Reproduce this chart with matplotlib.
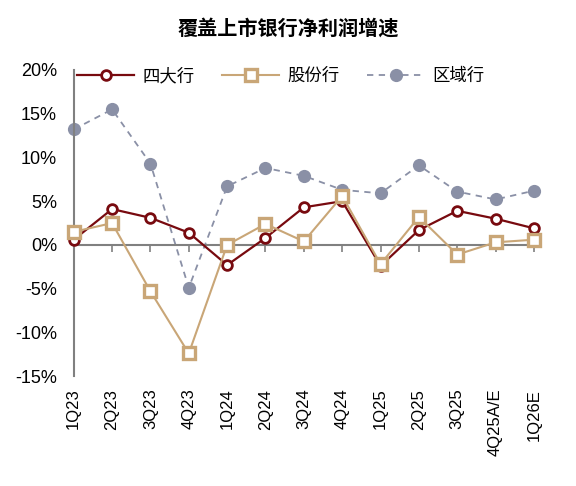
import matplotlib
matplotlib.use("Agg")
import matplotlib.pyplot as plt

plt.rcParams['font.family'] = ['Liberation Sans', 'Noto Sans CJK SC', 'DejaVu Sans']

categories = ["1Q23", "2Q23", "3Q23", "4Q23", "1Q24", "2Q24", "3Q24", "4Q24",
              "1Q25", "2Q25", "3Q25", "4Q25A/E", "1Q26E"]
big4 = [0.6, 4.1, 3.1, 1.4, -2.3, 0.8, 4.3, 5.0, -2.4, 1.7, 3.9, 3.0, 1.9]
joint = [1.5, 2.5, -5.3, -12.4, 0.0, 2.4, 0.4, 5.6, -2.2, 3.2, -1.1, 0.3, 0.6]
regional = [13.2, 15.5, 9.3, -4.9, 6.7, 8.8, 7.9, 6.3, 5.9, 9.1, 6.1, 5.2, 6.2]
yticks = [-15, -10, -5, 0, 5, 10, 15, 20]
series_names = ["四大行", "股份行", "区域行"]

c_red = "#780A0F"
c_tan = "#C9A677"
c_gray = "#8A90A6"
c_axis = "#808080"

fig = plt.figure(figsize=(5.76, 4.86), dpi=100)
ax = fig.add_axes([0.128, 0.226, 0.799, 0.630])
x = list(range(len(categories)))

ax.plot(x, regional, color=c_gray, linestyle=(0, (3.5, 3)), linewidth=1.3,
        marker='o', markersize=9.5, markerfacecolor=c_gray, markeredgecolor=c_gray,
        markeredgewidth=0, label=series_names[2], zorder=2, clip_on=False)
ax.plot(x, big4, color=c_red, linewidth=1.6, marker='o', markersize=7,
        markerfacecolor='white', markeredgecolor=c_red, markeredgewidth=2.0,
        label=series_names[0], zorder=3, clip_on=False)
ax.plot(x, joint, color=c_tan, linewidth=1.5, marker='s', markersize=8.2,
        markerfacecolor='white', markeredgecolor=c_tan, markeredgewidth=2.4,
        label=series_names[1], zorder=4, clip_on=False)

ax.set_xlim(0, len(categories) - 1)
ax.set_ylim(-15, 20)
ax.set_yticks(yticks)
ax.set_yticklabels([f"{v}%" for v in yticks], fontsize=13)
ax.tick_params(axis='y', length=0, pad=12)

for s in ['top', 'right']:
    ax.spines[s].set_visible(False)
ax.spines['left'].set_color(c_axis)
ax.spines['left'].set_linewidth(1.5)
ax.spines['bottom'].set_position(('data', 0))
ax.spines['bottom'].set_color(c_axis)
ax.spines['bottom'].set_linewidth(1.5)
ax.set_xticks(x)
ax.tick_params(axis='x', labelbottom=False, length=5, width=1.2, color=c_axis, direction='out')

sec = ax.secondary_xaxis(0)
sec.set_xticks(x)
sec.set_xticklabels(categories, rotation=90, fontsize=12)
sec.tick_params(length=0, pad=9)
sec.spines['bottom'].set_visible(False)

handles, labels = ax.get_legend_handles_labels()
order = [1, 2, 0]
leg = ax.legend([handles[i] for i in order], [labels[i] for i in order],
                loc='upper left', bbox_to_anchor=(-0.027, 1.06), ncol=3, frameon=False,
                fontsize=12.5, handlelength=3.3, columnspacing=1.6, handletextpad=0.45,
                markerscale=1.0)
for t in leg.get_texts():
    t.set_family(['Noto Sans CJK SC', 'DejaVu Sans'])

fig.text(0.5, 0.942, "覆盖上市银行净利润增速", ha='center', va='center', fontsize=14.5,
         fontweight='bold', family=['Noto Sans CJK SC', 'DejaVu Sans'])

fig.savefig("out.png", dpi=100)
